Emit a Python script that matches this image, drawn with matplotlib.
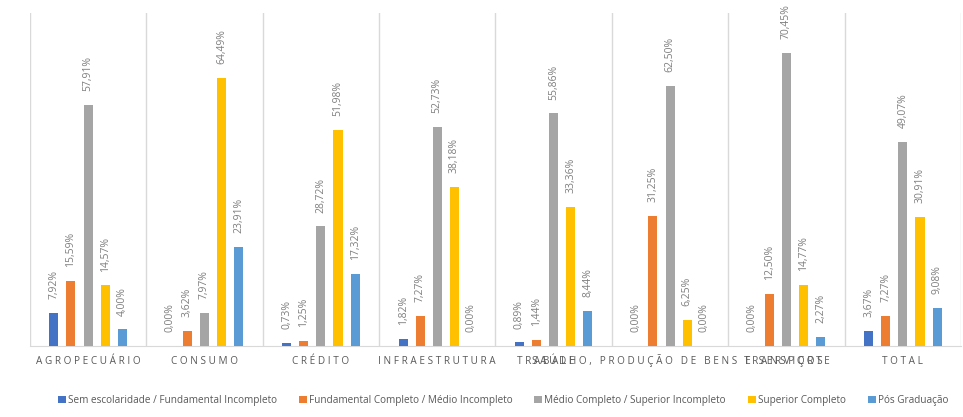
import matplotlib.pyplot as plt
import matplotlib.transforms as mtransforms
import numpy as np

categorias = ["AGROPECUÁRIO", "CONSUMO", "CRÉDITO", "INFRAESTRUTURA", "SAÚDE",
              "TRABALHO, PRODUÇÃO DE BENS E SERVIÇOS", "TRANSPORTE", "TOTAL"]
series = ["Sem escolaridade / Fundamental Incompleto",
          "Fundamental Completo / Médio Incompleto",
          "Médio Completo / Superior Incompleto",
          "Superior Completo",
          "Pós Graduação"]
sem_escolaridade = [7.92, 0.00, 0.73, 1.82, 0.89, 0.00, 0.00, 3.67]
fundamental = [15.59, 3.62, 1.25, 7.27, 1.44, 31.25, 12.50, 7.27]
medio = [57.91, 7.97, 28.72, 52.73, 55.86, 62.50, 70.45, 49.07]
superior = [14.57, 64.49, 51.98, 38.18, 33.36, 6.25, 14.77, 30.91]
pos = [4.00, 23.91, 17.32, 0.00, 8.44, 0.00, 2.27, 9.08]
valores = [sem_escolaridade, fundamental, medio, superior, pos]
cores = ["#4472C4", "#ED7D31", "#A5A5A5", "#FFC000", "#5B9BD5"]

plt.rcParams['font.family'] = ['Open Sans', 'DejaVu Sans']
cinza = "#595959"

fig = plt.figure(figsize=(9.63, 4.17), dpi=100)
ax = fig.add_axes([0.031, 0.170, 0.967, 0.799])

x = np.arange(len(categorias))
passo = 0.147
largura = 0.078
for i, (nome, vals, cor) in enumerate(zip(series, valores, cores)):
    pos_x = x + (i - 2) * passo
    ax.bar(pos_x, vals, largura, color=cor, label=nome, zorder=3)
    for xx, v in zip(pos_x, vals):
        ax.annotate(f"{v:.2f}%".replace(".", ","), (xx, v), xytext=(0, 10),
                    textcoords="offset points", rotation=90, ha="center", va="bottom",
                    fontsize=7.5, color="#7f7f7f")

for b in np.arange(len(categorias) + 1) - 0.5:
    ax.axvline(b, color="#d9d9d9", lw=1, zorder=1)

ax.set_xlim(-0.5, len(categorias) - 0.5)
ax.set_ylim(0, 80)
ax.set_yticks([])
ax.set_xticks([])

# rotulos das categorias com letras espacadas (como no Excel)
trans = mtransforms.blended_transform_factory(ax.transData, ax.transAxes)
for xx, c in zip(x, categorias):
    ax.text(xx, -0.055, " ".join(c), transform=trans, ha="center", va="baseline",
            fontsize=7.2, color=cinza)

for s in ["top", "right", "left"]:
    ax.spines[s].set_visible(False)
ax.spines["bottom"].set_color("#d9d9d9")

ax.legend(loc="upper center", bbox_to_anchor=(0.508, -0.12), ncol=5, frameon=False,
          fontsize=7.2, labelcolor=cinza, handlelength=0.8, handleheight=0.8,
          handletextpad=0.2, columnspacing=2.2)

fig.savefig("out.png", dpi=100)
